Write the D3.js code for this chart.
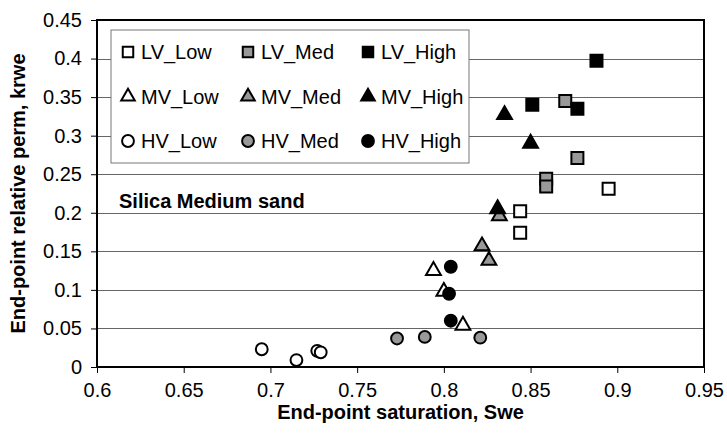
<!DOCTYPE html>
<html>
<head>
<meta charset="utf-8">
<script src="https://cdn.jsdelivr.net/npm/d3@7"></script>
<style>
  body { margin: 0; background: #fff; }
  text { font-family: "Liberation Sans", Arial, sans-serif; }
</style>
</head>
<body>
<div class="chart"></div>
<script>
// series values: [Swe, krwe]
const lvLow = [[0.844, 0.202], [0.844, 0.174], [0.895, 0.231]];
const lvMed = [[0.859, 0.244], [0.859, 0.234], [0.870, 0.345], [0.877, 0.271]];
const lvHigh = [[0.888, 0.397], [0.851, 0.340], [0.877, 0.335]];
const mvLow = [[0.794, 0.125], [0.800, 0.098], [0.811, 0.054]];
const mvMed = [[0.832, 0.196], [0.822, 0.157], [0.826, 0.138]];
const mvHigh = [[0.831, 0.205], [0.835, 0.327], [0.850, 0.290]];
const hvLow = [[0.695, 0.023], [0.715, 0.009], [0.727, 0.021], [0.729, 0.019]];
const hvMed = [[0.773, 0.037], [0.789, 0.039], [0.821, 0.038]];
const hvHigh = [[0.804, 0.130], [0.803, 0.095], [0.804, 0.060]];

const xTicks = [0.6, 0.65, 0.7, 0.75, 0.8, 0.85, 0.9, 0.95];
const yTicks = [0, 0.05, 0.1, 0.15, 0.2, 0.25, 0.3, 0.35, 0.4, 0.45];

const series = [
  { name: 'LV_Low', shape: 'square', fill: '#fff', data: lvLow },
  { name: 'LV_Med', shape: 'square', fill: '#999', data: lvMed },
  { name: 'LV_High', shape: 'square', fill: '#000', data: lvHigh },
  { name: 'MV_Low', shape: 'triangle', fill: '#fff', data: mvLow },
  { name: 'MV_Med', shape: 'triangle', fill: '#999', data: mvMed },
  { name: 'MV_High', shape: 'triangle', fill: '#000', data: mvHigh },
  { name: 'HV_Low', shape: 'circle', fill: '#fff', data: hvLow },
  { name: 'HV_Med', shape: 'circle', fill: '#999', data: hvMed },
  { name: 'HV_High', shape: 'circle', fill: '#000', data: hvHigh }
];

const svg_width = 727, svg_height = 435;
const margin = { top: 20, right: 23, bottom: 68, left: 97 };
const width = svg_width - margin.left - margin.right;
const height = svg_height - margin.top - margin.bottom;

const svg = d3.select('.chart').append('svg')
  .attr('width', svg_width).attr('height', svg_height);
const g = svg.append('g').attr('transform', `translate(${margin.left},${margin.top})`);

const xScale = d3.scaleLinear().domain([0.6, 0.95]).range([0, width]);
const yScale = d3.scaleLinear().domain([0, 0.45]).range([height, 0]);

const symbolType = { square: d3.symbolSquare, triangle: d3.symbolTriangle, circle: d3.symbolCircle };
const symbolSize = { square: 144, triangle: 95, circle: 110 };

// gridlines
g.append('g').selectAll('line')
  .data(yTicks.filter(d => d > 0 && d < 0.45))
  .join('line')
  .attr('x1', 0).attr('x2', width)
  .attr('y1', d => Math.round(yScale(d)) + 0.5).attr('y2', d => Math.round(yScale(d)) + 0.5)
  .style('stroke', '#666').style('stroke-width', 1);

// axes
const xAxis = d3.axisBottom(xScale).tickValues(xTicks).tickFormat(d3.format('')).tickSizeInner(6).tickSizeOuter(0).tickPadding(8);
const xAxisDraw = g.append('g').attr('transform', `translate(0,${height})`).call(xAxis);
const yAxis = d3.axisLeft(yScale).tickValues(yTicks).tickFormat(d3.format('')).tickSizeInner(6).tickSizeOuter(0).tickPadding(9);
const yAxisDraw = g.append('g').call(yAxis);
[xAxisDraw, yAxisDraw].forEach(a => {
  a.select('.domain').remove();
  a.selectAll('line').style('stroke', '#000');
  a.selectAll('text').style('font-size', '20px').style('fill', '#000')
    .style('font-family', '"Liberation Sans", Arial, sans-serif');
});
xAxisDraw.selectAll('text').attr('dy', '0.8em');

// frame
g.append('rect').attr('x', 0).attr('y', 0).attr('width', width).attr('height', height)
  .style('fill', 'none').style('stroke', '#000').style('stroke-width', 2);

// annotation
g.append('text').attr('x', 22).attr('y', 188)
  .text('Silica Medium sand')
  .style('font-size', '20px').style('font-weight', 'bold');

// points
series.forEach(s => {
  g.append('g').selectAll('path')
    .data(s.data)
    .join('path')
    .attr('d', d3.symbol().type(symbolType[s.shape]).size(symbolSize[s.shape]))
    .attr('transform', d => `translate(${xScale(d[0])},${yScale(d[1])})`)
    .style('fill', s.fill).style('stroke', '#000').style('stroke-width', 2);
});

// legend
const legend = g.append('g').attr('transform', 'translate(14,10)');
legend.append('rect').attr('x', 0).attr('y', 0).attr('width', 358).attr('height', 133)
  .style('fill', '#fff').style('stroke', '#777').style('stroke-width', 1);
series.forEach((s, i) => {
  const col = i % 3, row = Math.floor(i / 3);
  const item = legend.append('g').attr('transform', `translate(${17 + col * 120},${22 + row * 44.5})`);
  item.append('path')
    .attr('d', d3.symbol().type(symbolType[s.shape]).size(s.shape === 'triangle' ? 80 : 110))
    .style('fill', s.fill).style('stroke', '#000').style('stroke-width', 2);
  item.append('text').attr('x', 13).attr('y', 7).text(s.name).style('font-size', '20px');
});

// axis titles
svg.append('text').attr('x', margin.left + width / 2).attr('y', 419)
  .attr('text-anchor', 'middle').text('End-point saturation, Swe')
  .style('font-size', '20px').style('font-weight', 'bold');
svg.append('text').attr('transform', `translate(25,${margin.top + height / 2}) rotate(-90)`)
  .attr('text-anchor', 'middle').text('End-point relative perm, krwe')
  .style('font-size', '20px').style('font-weight', 'bold');
</script>
</body>
</html>
